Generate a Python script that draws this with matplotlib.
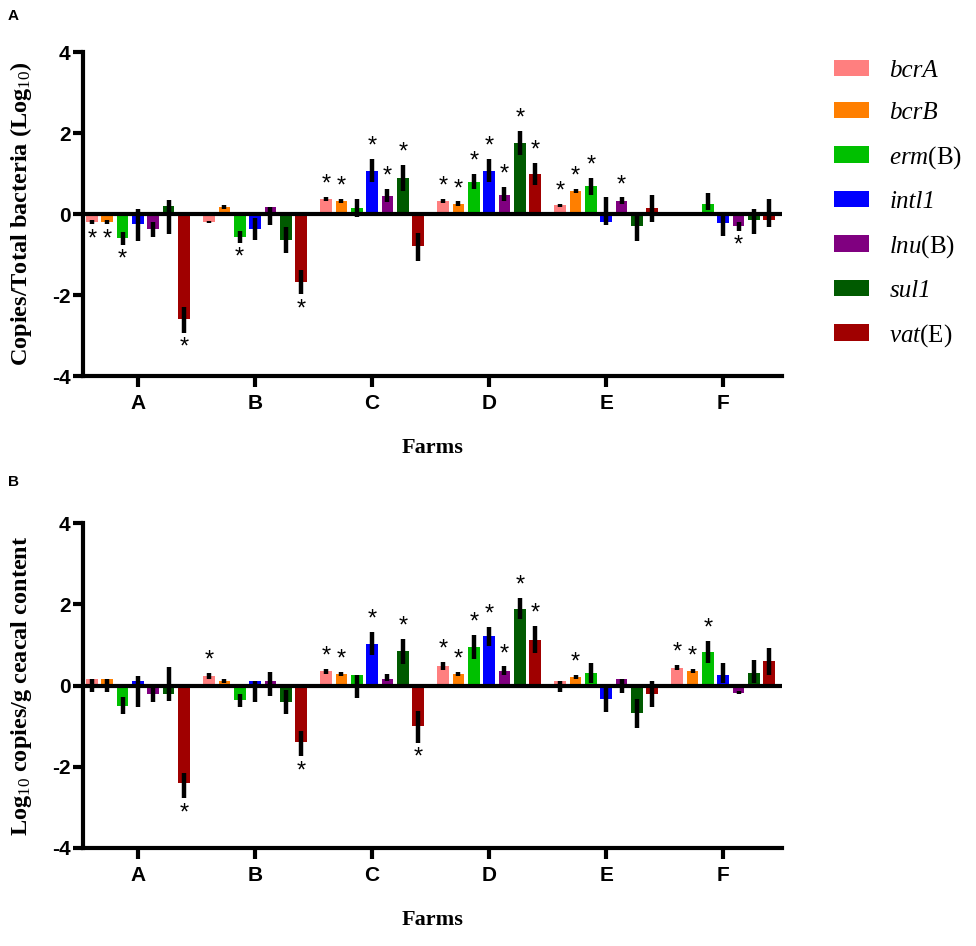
import numpy as np
import matplotlib
matplotlib.use("Agg")
import matplotlib.pyplot as plt
from matplotlib.patches import Patch

plt.rcParams['mathtext.fontset'] = 'custom'
plt.rcParams['mathtext.rm'] = 'Liberation Serif'
plt.rcParams['mathtext.it'] = 'Liberation Serif:italic'
plt.rcParams['mathtext.bf'] = 'Liberation Serif:bold'
plt.rcParams['axes.unicode_minus'] = False

# Data
farms = ['A', 'B', 'C', 'D', 'E', 'F']
genes = ['bcrA', 'bcrB', r'$\it{erm}$(B)', 'intl1',
         r'$\it{lnu}$(B)', 'sul1', r'$\it{vat}$(E)']
colors = ['#FF7F7F', '#FF7F00', '#00C000', '#0000FF', '#800080', '#005A00', '#A00000']

# Panel A: copies / total bacteria (log10); rows = genes, columns = farms A..F
a_mean = [
    [-0.20, -0.20, 0.38, 0.33, 0.22, 0.00],
    [-0.20, 0.18, 0.33, 0.26, 0.57, 0.03],
    [-0.60, -0.57, 0.15, 0.80, 0.68, 0.25],
    [-0.25, -0.37, 1.07, 1.07, -0.20, -0.23],
    [-0.38, 0.18, 0.45, 0.48, 0.33, -0.30],
    [0.20, -0.63, 0.90, 1.75, -0.30, -0.15],
    [-2.60, -1.67, -0.80, 1.00, 0.15, -0.15],
]
a_lo = [
    [0.05, 0.02, 0.05, 0.05, 0.04, 0.02],
    [0.05, 0.05, 0.05, 0.05, 0.05, 0.02],
    [0.16, 0.14, 0.23, 0.17, 0.21, 0.15],
    [0.42, 0.27, 0.27, 0.27, 0.07, 0.31],
    [0.18, 0.45, 0.15, 0.15, 0.08, 0.11],
    [0.70, 0.32, 0.32, 0.29, 0.36, 0.35],
    [0.33, 0.31, 0.35, 0.28, 0.34, 0.17],
]
a_hi = [
    [0.05, 0.02, 0.05, 0.05, 0.04, 0.02],
    [0.05, 0.05, 0.05, 0.05, 0.05, 0.02],
    [0.16, 0.14, 0.21, 0.19, 0.20, 0.26],
    [0.37, 0.27, 0.28, 0.30, 0.63, 0.29],
    [0.19, 0.00, 0.16, 0.18, 0.08, 0.11],
    [0.15, 0.32, 0.31, 0.31, 0.33, 0.27],
    [0.30, 0.30, 0.34, 0.27, 0.32, 0.53],
]
a_star = [
    [1, 0, 1, 1, 1, 0],
    [1, 0, 1, 1, 1, 0],
    [1, 1, 0, 1, 1, 0],
    [0, 0, 1, 1, 0, 0],
    [0, 0, 1, 1, 1, 1],
    [0, 0, 1, 1, 0, 0],
    [1, 1, 0, 1, 0, 0],
]

# Panel B: log10 copies / g caecal content
b_mean = [
    [0.15, 0.24, 0.35, 0.48, 0.12, 0.44],
    [0.15, 0.12, 0.28, 0.29, 0.20, 0.36],
    [-0.50, -0.35, 0.25, 0.95, 0.30, 0.83],
    [0.10, 0.10, 1.03, 1.22, -0.33, 0.27],
    [-0.20, 0.10, 0.15, 0.36, 0.15, -0.18],
    [-0.20, -0.40, 0.84, 1.88, -0.67, 0.32],
    [-2.40, -1.40, -1.00, 1.13, -0.20, 0.60],
]
b_lo = [
    [0.30, 0.07, 0.06, 0.09, 0.28, 0.06],
    [0.30, 0.05, 0.05, 0.05, 0.05, 0.05],
    [0.21, 0.17, 0.55, 0.29, 0.25, 0.27],
    [0.62, 0.50, 0.27, 0.24, 0.33, 0.22],
    [0.20, 0.36, 0.05, 0.11, 0.33, 0.04],
    [0.18, 0.31, 0.30, 0.24, 0.37, 0.27],
    [0.38, 0.34, 0.41, 0.33, 0.32, 0.33],
]
b_hi = [
    [0.00, 0.07, 0.06, 0.09, 0.00, 0.06],
    [0.00, 0.05, 0.05, 0.05, 0.05, 0.05],
    [0.21, 0.15, 0.00, 0.30, 0.26, 0.26],
    [0.13, 0.00, 0.28, 0.22, 0.27, 0.29],
    [0.18, 0.23, 0.14, 0.11, 0.00, 0.04],
    [0.66, 0.30, 0.31, 0.27, 0.34, 0.30],
    [0.24, 0.28, 0.37, 0.33, 0.30, 0.33],
]
b_star = [
    [0, 1, 1, 1, 0, 1],
    [0, 0, 1, 1, 1, 1],
    [0, 0, 0, 1, 0, 1],
    [0, 0, 1, 1, 0, 0],
    [0, 0, 0, 1, 0, 0],
    [0, 0, 1, 1, 0, 0],
    [1, 1, 1, 1, 0, 0],
]

SERIF = 'Liberation Serif'
SANS = 'Liberation Sans'


def draw_panel(ax, means, lo, hi, stars, ylabel):
    x = np.arange(len(farms))
    step = 0.131
    width = 0.1
    for i in range(len(genes)):
        xi = x + (i - 3) * step
        m = np.array(means[i])
        ax.bar(xi, m, width, color=colors[i], linewidth=0, zorder=2)
        ax.errorbar(xi, m, yerr=[lo[i], hi[i]], fmt='none', ecolor='black',
                    elinewidth=3.2, capsize=0, zorder=3)
        for j in range(len(farms)):
            if not stars[i][j]:
                continue
            if m[j] >= 0:
                ax.annotate('*', xy=(xi[j], m[j] + hi[i][j]), xytext=(0, 1),
                            textcoords='offset points', ha='center', va='bottom',
                            fontsize=17, family=SANS, zorder=4)
            else:
                ax.annotate('*', xy=(xi[j], m[j] - lo[i][j]), xytext=(0, -3),
                            textcoords='offset points', ha='center', va='top',
                            fontsize=17, family=SANS, zorder=4)

    ax.axhline(0, color='black', linewidth=3, zorder=5)
    ax.set_xlim(-0.47, 5.5)
    ax.set_ylim(-4, 4)
    ax.set_yticks([-4, -2, 0, 2, 4])
    ax.set_xticks(x)
    ax.set_xticklabels(farms)
    for side in ['top', 'right']:
        ax.spines[side].set_visible(False)
    for side in ['left', 'bottom']:
        ax.spines[side].set_linewidth(3)
    ax.tick_params(axis='y', length=7, width=3, pad=2)
    ax.tick_params(axis='x', length=8, width=3, pad=5)
    for lab in ax.get_xticklabels() + ax.get_yticklabels():
        lab.set_fontfamily(SANS)
        lab.set_fontweight('bold')
        lab.set_fontsize(15)
    ax.set_xlabel('Farms', fontsize=16, fontweight='bold', family=SERIF, labelpad=18)
    ax.set_ylabel(ylabel, fontsize=17.5, fontweight='bold', family=SERIF, labelpad=13)


fig = plt.figure(figsize=(9.76, 9.46), dpi=100)
ax_a = fig.add_axes([0.085, 0.6025, 0.716, 0.3425])
ax_b = fig.add_axes([0.085, 0.1036, 0.716, 0.3435])

draw_panel(ax_a, a_mean, a_lo, a_hi, a_star, r'Copies/Total bacteria (Log$_{10}$)')
draw_panel(ax_b, b_mean, b_lo, b_hi, b_star, r'Log$_{10}$ copies/g ceacal content')

fig.text(0.008, 0.99, 'A', fontsize=11, fontweight='bold', family=SANS, va='top')
fig.text(0.008, 0.498, 'B', fontsize=11, fontweight='bold', family=SANS, va='top')

handles = [Patch(facecolor=c, edgecolor='none') for c in colors]
leg = fig.legend(handles, genes, loc='upper left', bbox_to_anchor=(0.855, 0.937),
                 frameon=False, prop={'family': SERIF, 'size': 18},
                 handlelength=1.4, handleheight=0.65, handletextpad=0.8,
                 labelspacing=0.8, borderaxespad=0, borderpad=0)
# whole-italic gene names (keeps the digit italic too)
for t in leg.get_texts():
    if '$' not in t.get_text():
        t.set_fontstyle('italic')

fig.savefig('out.png', dpi=100)
